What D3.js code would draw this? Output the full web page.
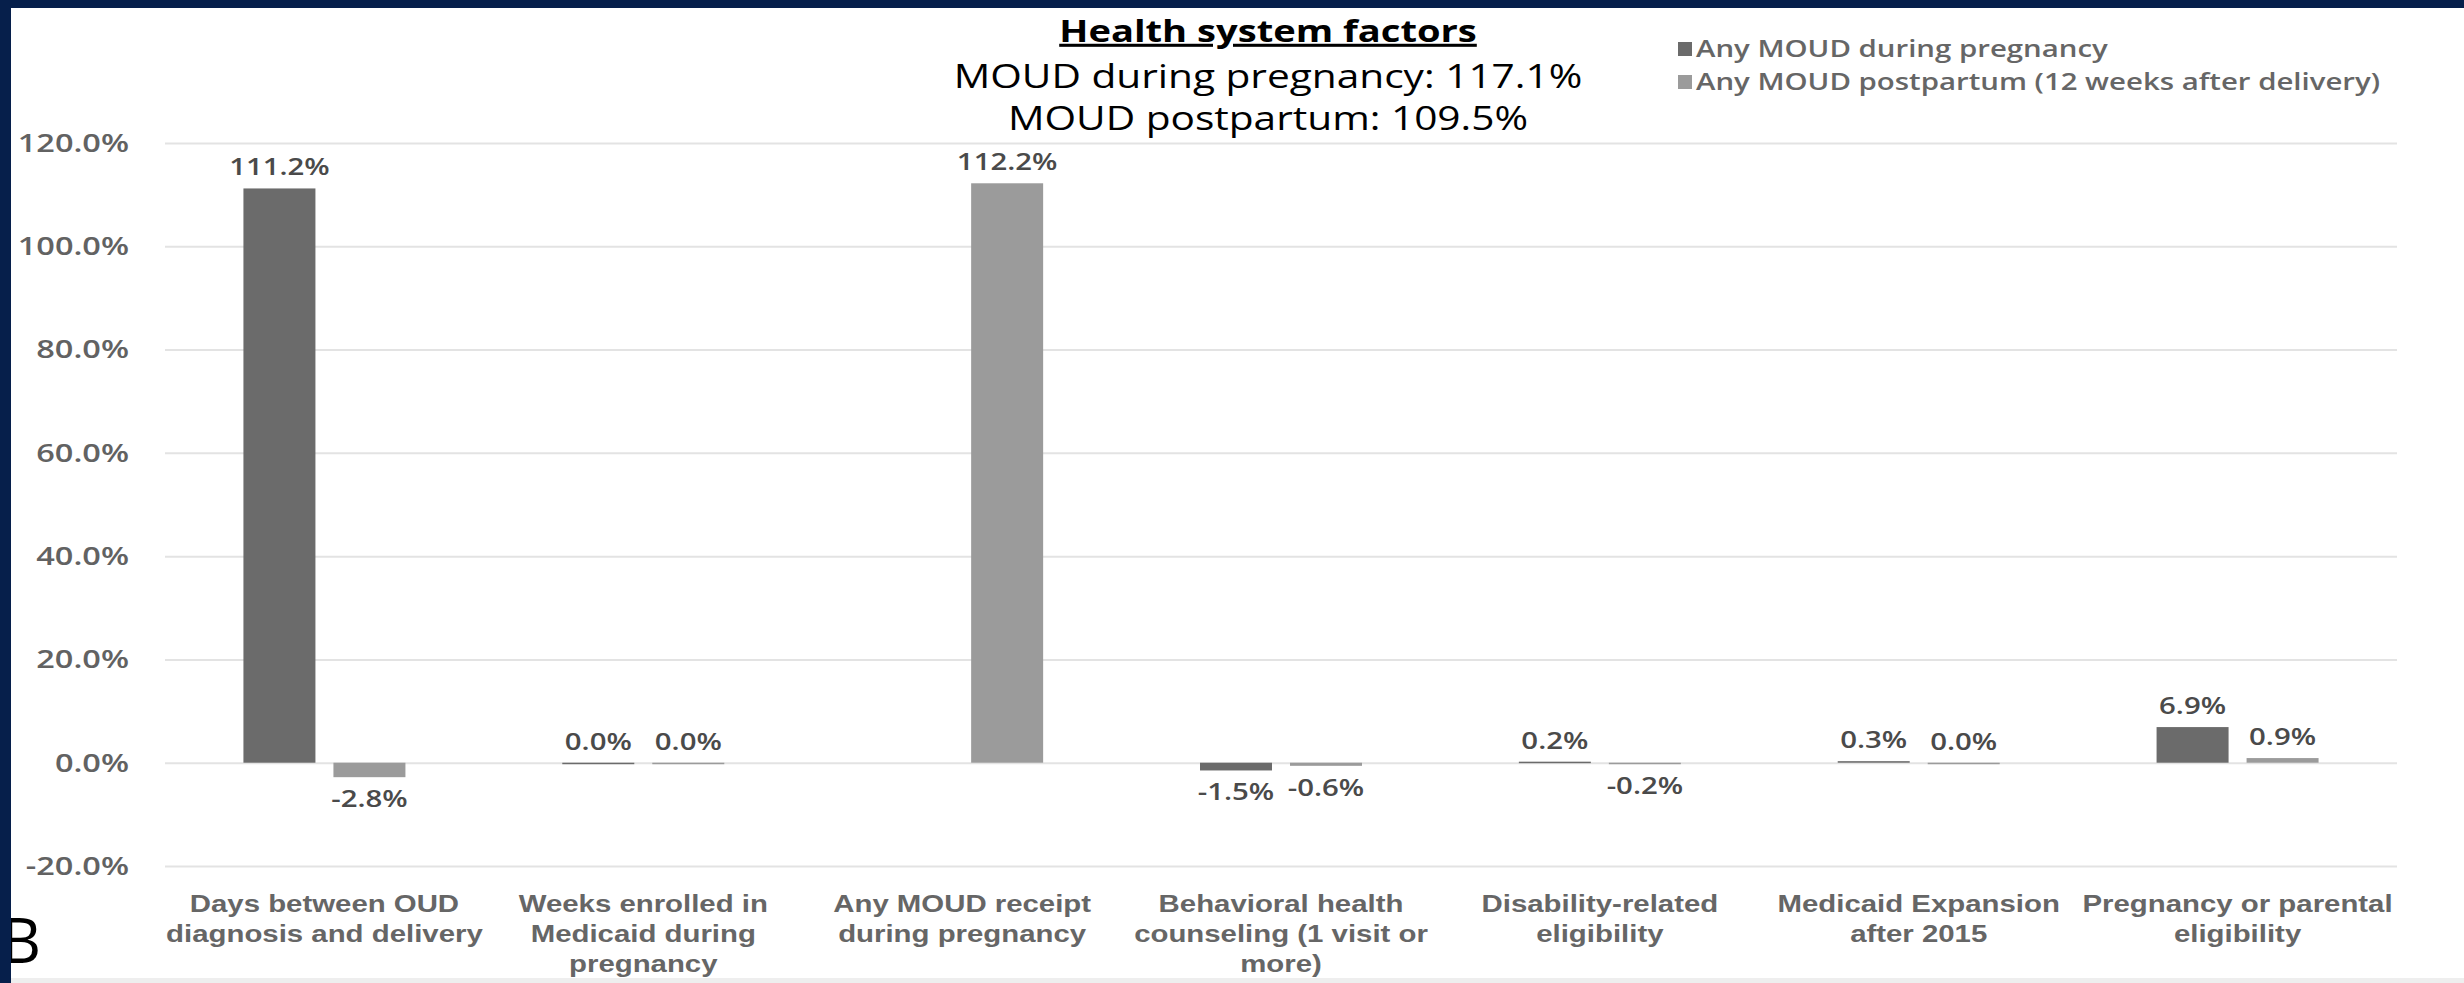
<!DOCTYPE html>
<html>
<head>
<meta charset="utf-8">
<script src="https://cdn.jsdelivr.net/npm/d3@7"></script>
<style>
html, body { margin: 0; padding: 0; background: #fff; }
svg { display: block; font-family: "Open Sans", sans-serif; }
</style>
</head>
<body>
<svg id="chart"></svg>
<script>
const categories = [
    "Days between OUD\ndiagnosis and delivery",
    "Weeks enrolled in\nMedicaid during\npregnancy",
    "Any MOUD receipt\nduring pregnancy",
    "Behavioral health\ncounseling (1 visit or\nmore)",
    "Disability-related\neligibility",
    "Medicaid Expansion\nafter 2015",
    "Pregnancy or parental\neligibility"
];
const seriesNames = ["Any MOUD during pregnancy", "Any MOUD postpartum (12 weeks after delivery)"];
const duringPregnancy = [111.2, 0.0, null, -1.5, 0.2, 0.3, 6.9];
const postpartum = [-2.8, 0.0, 112.2, -0.6, -0.2, 0.0, 0.9];
const yTicks = [-20, 0, 20, 40, 60, 80, 100, 120];
const titleLines = ["Health system factors", "MOUD during pregnancy: 117.1%", "MOUD postpartum: 109.5%"];
const panelLabel = "B";

const WIDTH = 2464, HEIGHT = 983;
const SX = 1.25; // text in the picture is stretched sideways
const colors = ["#6b6b6b", "#9b9b9b"];

const svg = d3.select('#chart')
    .attr('width', WIDTH)
    .attr('height', HEIGHT);

svg.append('rect')
    .attr('width', WIDTH).attr('height', HEIGHT)
    .attr('fill', '#fff');

const plotLeft = 165, plotRight = 2397, plotTop = 143, plotBottom = 866;

const x0 = d3.scaleBand()
    .domain(categories)
    .range([plotLeft, plotRight])
    .padding(0);

const x1 = d3.scaleBand()
    .domain([0, 1])
    .range([x0.bandwidth() / 2 - 81, x0.bandwidth() / 2 + 81])
    .paddingInner(0.2);

const y = d3.scaleLinear()
    .domain([-20, 120])
    .range([plotBottom, plotTop]);

// gridlines
svg.append('g')
    .attr('transform', `translate(${plotLeft},0)`)
    .call(d3.axisLeft(y).tickValues(yTicks).tickSize(-(plotRight - plotLeft)).tickFormat(''))
    .call(g => g.select('.domain').remove())
    .call(g => g.selectAll('line').attr('stroke', '#e3e3e3').attr('stroke-width', 2));

// y axis labels
svg.append('g')
    .attr('transform', `translate(${plotLeft},0)`)
    .call(d3.axisLeft(y).tickValues(yTicks).tickSize(0).tickPadding(36).tickFormat(d => d.toFixed(1) + '%'))
    .call(g => g.select('.domain').remove())
    .call(g => g.selectAll('text')
        .attr('font-family', '"Open Sans", sans-serif')
        .attr('font-size', 26)
        .attr('font-weight', 600)
        .attr('fill', '#626262')
        .attr('x', -36 / SX)
        .attr('transform', `scale(${SX},1)`));

// category labels
const xAxis = svg.append('g')
    .attr('transform', `translate(0,${plotBottom})`)
    .call(d3.axisBottom(x0).tickSize(0).tickFormat(''))
    .call(g => g.select('.domain').remove());

xAxis.selectAll('.tick')
    .each(function(d) {
        const t = d3.select(this).append('text')
            .attr('text-anchor', 'middle')
            .attr('font-size', 23.5)
            .attr('font-weight', 600)
            .attr('fill', '#666666')
            .attr('transform', `translate(0,46) scale(${SX},1)`);
        d.split('\n').forEach((line, i) => {
            t.append('tspan').attr('x', 0).attr('y', i * 30).text(line);
        });
    });

// bars
const rows = categories.map((c, i) => ({ cat: c, vals: [duringPregnancy[i], postpartum[i]] }));

const groups = svg.append('g')
    .selectAll('g')
    .data(rows)
    .join('g')
    .attr('transform', d => `translate(${x0(d.cat)},0)`);

groups.selectAll('rect')
    .data(d => d.vals.map((v, s) => ({ v, s })).filter(e => e.v !== null))
    .join('rect')
    .attr('x', e => x1(e.s))
    .attr('width', x1.bandwidth())
    .attr('y', e => y(Math.max(0, e.v)))
    .attr('height', e => Math.max(Math.abs(y(e.v) - y(0)), 1.5))
    .attr('fill', e => colors[e.s]);

groups.selectAll('text')
    .data(d => d.vals.map((v, s) => ({ v, s })).filter(e => e.v !== null))
    .join('text')
    .attr('text-anchor', 'middle')
    .attr('font-size', 23.5)
    .attr('font-weight', 600)
    .attr('fill', '#4a4a4a')
    .attr('transform', e => {
        const ty = e.v >= 0 ? y(e.v) - 13 : y(e.v) + 30;
        return `translate(${x1(e.s) + x1.bandwidth() / 2},${ty}) scale(${SX},1)`;
    })
    .text(e => e.v.toFixed(1) + '%');

// title
const title = svg.append('g')
    .attr('transform', 'translate(1268,0)');

title.selectAll('text')
    .data(titleLines)
    .join('text')
    .attr('text-anchor', 'middle')
    .attr('fill', '#000')
    .attr('font-size', (d, i) => i === 0 ? 30.5 : 32.5)
    .attr('font-weight', (d, i) => i === 0 ? 'bold' : 500)
    .attr('text-decoration', (d, i) => i === 0 ? 'underline' : 'none')
    .attr('transform', (d, i) => `translate(0,${[42, 88, 130][i]}) scale(${SX},1)`)
    .text(d => d);

// legend
const legend = svg.append('g')
    .attr('transform', 'translate(1678,0)');

const item = legend.selectAll('g')
    .data(seriesNames)
    .join('g')
    .attr('transform', (d, i) => `translate(0,${49 + i * 33})`);

item.append('rect')
    .attr('x', 0).attr('y', -7)
    .attr('width', 14).attr('height', 14)
    .attr('fill', (d, i) => colors[i]);

item.append('text')
    .attr('font-size', 23.5)
    .attr('font-weight', 600)
    .attr('fill', '#666666')
    .attr('transform', `translate(18,8) scale(${SX},1)`)
    .text(d => d);

// panel letter
svg.append('text')
    .attr('x', 1).attr('y', 963)
    .attr('font-size', 62)
    .attr('fill', '#000')
    .text(panelLabel);

// frame
svg.append('rect').attr('x', 0).attr('y', 0).attr('width', WIDTH).attr('height', 8).attr('fill', '#061f4b');
svg.append('rect').attr('x', 0).attr('y', 0).attr('width', 11).attr('height', HEIGHT).attr('fill', '#061f4b');
svg.append('rect').attr('x', 11).attr('y', 978).attr('width', WIDTH - 11).attr('height', 5).attr('fill', '#eeeeee');
</script>
</body>
</html>
